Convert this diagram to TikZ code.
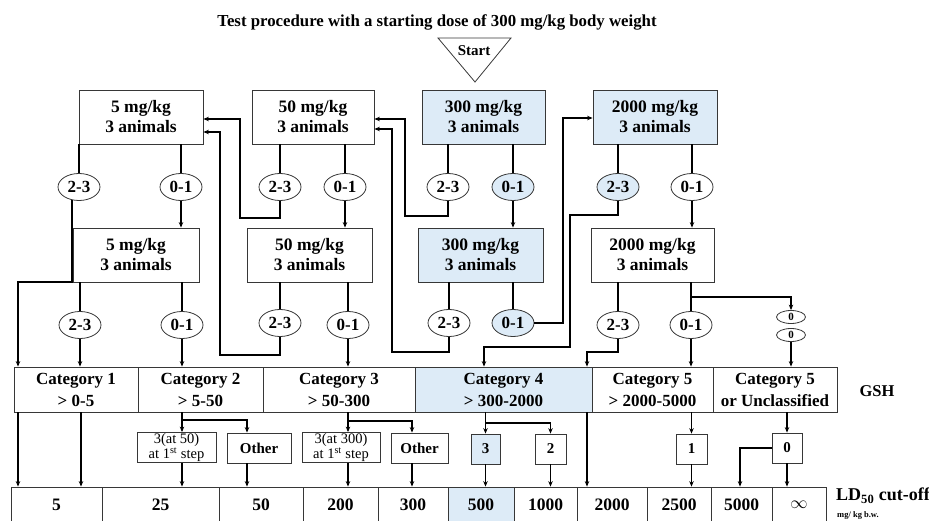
\documentclass[tikz,border=0pt]{standalone}
\usepackage{fontspec}
\setmainfont{Liberation Serif}
\usetikzlibrary{arrows.meta,shapes.geometric}
\definecolor{lblue}{RGB}{221,235,247}
\definecolor{bord}{RGB}{55,55,55}
\begin{document}
\begin{tikzpicture}[x=1pt,y=-1pt,
  box/.style={draw=bord, line width=0.8pt, minimum height=54pt, inner sep=0pt, align=center,
    font=\bfseries\fontsize{17.5}{20}\selectfont},
  cat/.style={draw=bord, line width=0.8pt, minimum height=45pt, inner sep=0pt, align=center,
    font=\bfseries\fontsize{17}{22}\selectfont},
  ell/.style={draw=bord, line width=0.8pt, ellipse, minimum width=42pt, minimum height=27pt, inner sep=0pt,
    fill=white, font=\bfseries\fontsize{17}{18}\selectfont},
  sell/.style={draw=bord, line width=0.8pt, ellipse, minimum width=29pt, minimum height=13pt, inner sep=0pt,
    fill=white, font=\bfseries\fontsize{11}{12}\selectfont},
  mid/.style={draw=bord, line width=0.8pt, minimum height=30pt, inner sep=0pt, align=center,
    font=\bfseries\fontsize{15}{17}\selectfont},
  midsmall/.style={mid, font=\fontsize{14.5}{14.5}\selectfont},
  cell/.style={draw=bord, line width=0.8pt, minimum height=36pt, inner sep=0pt,
    font=\bfseries\fontsize{17.5}{20}\selectfont},
  blue/.style={fill=lblue},
  stem/.style={line width=2.4pt},
  arr/.style={line width=1.3pt, -{Stealth[length=5.5pt,width=4.5pt]}},
]
\useasboundingbox (0,0) rectangle (929,521);

% title and start
\node[font=\bfseries\fontsize{16.8}{18}\selectfont] (title) at (437,22) {Test procedure with a starting dose of 300 mg/kg body weight};
\draw[line width=0.8pt, draw=bord] (438,38) -- (511,38) -- (475,82) -- cycle;
\node[font=\bfseries\fontsize{15}{16}\selectfont] (start) at (474,51) {Start};

% dose boxes
\node[box, minimum width=124pt] (b5a) at (141,117) {5 mg/kg\\3 animals};
\node[box, minimum width=122pt] (b50a) at (313,117) {50 mg/kg\\3 animals};
\node[box, blue, minimum width=123pt] (b300a) at (483.5,117) {300 mg/kg\\3 animals};
\node[box, blue, minimum width=124pt] (b2000a) at (655,117) {2000 mg/kg\\3 animals};
\node[box, minimum width=126pt] (b5b) at (136,255) {5 mg/kg\\3 animals};
\node[box, minimum width=125pt] (b50b) at (309.5,255) {50 mg/kg\\3 animals};
\node[box, blue, minimum width=125pt] (b300b) at (480.5,255) {300 mg/kg\\3 animals};
\node[box, minimum width=123pt] (b2000b) at (652.5,255) {2000 mg/kg\\3 animals};

% ellipses row 1
\node[ell] (e1a) at (79,187) {2-3};
\node[ell] (e1b) at (181,187) {0-1};
\node[ell] (e1c) at (280,187) {2-3};
\node[ell] (e1d) at (345,187) {0-1};
\node[ell] (e1e) at (448,187) {2-3};
\node[ell, blue] (e1f) at (513,187) {0-1};
\node[ell, blue] (e1g) at (618,187) {2-3};
\node[ell] (e1h) at (692,187) {0-1};
% ellipses row 2
\node[ell] (e2a) at (80,325) {2-3};
\node[ell] (e2b) at (182,325) {0-1};
\node[ell] (e2c) at (280,323) {2-3};
\node[ell] (e2d) at (348,325) {0-1};
\node[ell] (e2e) at (449,323) {2-3};
\node[ell, blue] (e2f) at (513,323) {0-1};
\node[ell] (e2g) at (618,325) {2-3};
\node[ell] (e2h) at (691,325) {0-1};
\node[sell] (z1) at (791,317) {0};
\node[sell] (z2) at (791,335) {0};

% categories
\node[cat, minimum width=124pt] (cat1) at (76,389.5) {Category 1\\> 0-5};
\node[cat, minimum width=125pt] (cat2) at (200.5,389.5) {Category 2\\> 5-50};
\node[cat, minimum width=152pt] (cat3) at (339,389.5) {Category 3\\> 50-300};
\node[cat, blue, minimum width=177pt] (cat4) at (503.5,389.5) {Category 4\\> 300-2000};
\node[cat, minimum width=121pt] (cat5) at (652.5,389.5) {Category 5\\> 2000-5000};
\node[cat, minimum width=124pt] (cat5u) at (775,389.5) {Category 5\\or Unclassified};
\node[font=\bfseries\fontsize{16.5}{18}\selectfont] (gsh) at (877,391) {GSH};

% middle boxes
\node[midsmall, minimum width=79pt] (m1) at (176.5,447.5) {3(at 50)\\at 1\textsuperscript{st} step};
\node[mid, minimum width=64pt] (m2) at (259,448) {Other};
\node[midsmall, minimum width=78pt] (m3) at (341,447.5) {3(at 300)\\at 1\textsuperscript{st} step};
\node[mid, minimum width=57pt] (m4) at (419.5,448) {Other};
\node[mid, blue, minimum width=29pt] (m5) at (485.5,449) {3};
\node[mid, minimum width=31pt] (m6) at (550.5,449) {2};
\node[mid, minimum width=31pt] (m7) at (691.5,449) {1};
\node[mid, minimum width=30pt] (m8) at (787,448) {0};

% bottom row
\node[cell, minimum width=91pt] (r1) at (56.5,505) {5};
\node[cell, minimum width=117pt] (r2) at (160.5,505) {25};
\node[cell, minimum width=84pt] (r3) at (261,505) {50};
\node[cell, minimum width=75pt] (r4) at (340.5,505) {200};
\node[cell, minimum width=70pt] (r5) at (413,505) {300};
\node[cell, blue, minimum width=66pt] (r6) at (481,505) {500};
\node[cell, minimum width=63pt] (r7) at (545.5,505) {1000};
\node[cell, minimum width=70pt] (r8) at (612,505) {2000};
\node[cell, minimum width=64pt] (r9) at (679,505) {2500};
\node[cell, minimum width=61pt] (r10) at (741.5,505) {5000};
\node[cell, minimum width=54pt] (r11) at (799,505) {$\infty$};
\node[anchor=west, font=\bfseries\fontsize{18}{20}\selectfont, inner sep=0pt] (ld) at (836,496) {LD\textsubscript{50} cut-off};
\node[anchor=west, font=\bfseries\fontsize{8.5}{9}\selectfont, inner sep=0pt] (unit) at (837,515) {mg/ kg b.w.};

% stems from boxes to ellipses
\foreach \e/\b in {e1a/b5a,e1b/b5a,e1c/b50a,e1d/b50a,e1e/b300a,e1f/b300a,e1g/b2000a,e1h/b2000a,
                   e2a/b5b,e2b/b5b,e2c/b50b,e2d/b50b,e2e/b300b,e2f/b300b,e2g/b2000b,e2h/b2000b}
  \draw[stem] (\e.north) -- (\e.north |- \b.south);

% row 1 to row 2
\draw[arr] (e1b.south) -- (e1b.south |- b5b.north);
\draw[arr] (e1d.south) -- (e1d.south |- b50b.north);
\draw[arr] (e1f.south) -- (e1f.south |- b300b.north);
\draw[arr] (e1h.south) -- (e1h.south |- b2000b.north);

% row 2 to categories
\draw[arr] (e2a.south) -- (e2a.south |- cat1.north);
\draw[arr] (e2b.south) -- (e2b.south |- cat2.north);
\draw[arr] (e2d.south) -- (e2d.south |- cat3.north);
\draw[arr] (e2h.south) -- (e2h.south |- cat5.north);
\draw[arr] (z2.south) -- (z2.south |- cat5u.north);
\draw[arr] (e2h.north |- 0,297) -| (z1.north);

% routed connectors
\draw[arr] (e1a.-118) |- (18,282) -- (cat1.north -| 18,0);
\draw[arr] (e1c.south) |- (240,218) |- (b5a.east |- 0,119);
\draw[arr] (e2c.south) |- (220,355) |- (b5a.east |- 0,132);
\draw[arr] (e1e.south) |- (405,216) |- (b50a.east |- 0,119);
\draw[arr] (e2e.south) |- (392,352) |- (b50a.east |- 0,129);
\draw[arr] (e2f.east) -| (563,118) -- (b2000a.west |- 0,118);
\draw[arr] (e1g.south) |- (570,215) |- (484,347) -- (cat4.north -| 484,0);
\draw[arr] (e2g.south) |- (587,352) -- (cat4.north -| 587,0);

% categories to middle boxes
\draw[arr] (cat2.south -| 182,0) -- (m1.north -| 182,0);
\draw[arr] (182,420) -| (m2.north -| 247,0);
\draw[arr] (cat3.south -| 348,0) -- (m3.north -| 348,0);
\draw[arr] (348,421) -| (m4.north -| 412,0);
\draw[arr] (cat4.south -| m5.north) -- (m5.north);
\draw[arr] (485.5,423) -| (m6.north);
\draw[arr] (cat5.south -| m7.north) -- (m7.north);
\draw[arr] (cat5u.south -| m8.north) -- (m8.north);

% to bottom row
\draw[arr] (cat1.south -| 18,0) -- (r1.north -| 18,0);
\draw[arr] (cat1.south -| 81,0) -- (r1.north -| 81,0);
\draw[arr] (m1.south -| 182,0) -- (r2.north -| 182,0);
\draw[arr] (m2.south -| 247,0) -- (r3.north -| 247,0);
\draw[arr] (m3.south -| 348,0) -- (r4.north -| 348,0);
\draw[arr] (m4.south -| 412,0) -- (r5.north -| 412,0);
\draw[arr] (m5.south) -- (m5.south |- r6.north);
\draw[arr] (m6.south) -- (m6.south |- r7.north);
\draw[arr] (cat4.south -| 587,0) -- (r8.north -| 587,0);
\draw[arr] (m7.south) -- (m7.south |- r9.north);
\draw[arr] (m8.west) -| (r10.north -| 740,0);
\draw[arr] (m8.south) -- (m8.south |- r11.north);
\end{tikzpicture}
\end{document}
